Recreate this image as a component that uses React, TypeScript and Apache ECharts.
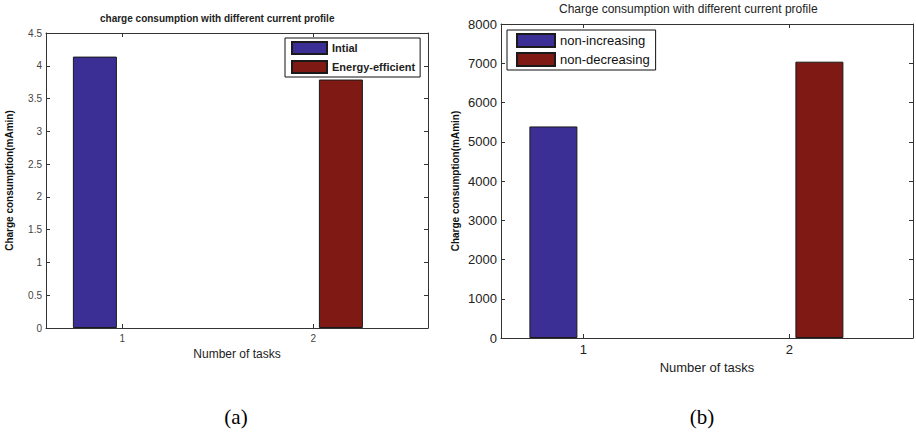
import React, { useEffect, useRef } from 'react';
import * as echarts from 'echarts';

const taskNumbers = [1, 2];
const leftSeriesNames = ['Intial', 'Energy-efficient'];
const leftInitial = [4.14, 0];
const leftEnergyEfficient = [0, 3.79];
const rightSeriesNames = ['non-increasing', 'non-decreasing'];
const rightNonIncreasing = [5390, 0];
const rightNonDecreasing = [0, 7040];
const leftTitle = 'charge consumption with different current profile';
const rightTitle = 'Charge consumption with different current profile';
const xAxisTitle = 'Number of tasks';
const yAxisTitle = 'Charge consumption(mAmin)';
const captions = ['(a)', '(b)'];

const BLUE = '#3b2e95';
const RED = '#7e1a13';
const AXIS = '#333';
const SANS = 'Arial, Liberation Sans, sans-serif';

function buildOption() {
  const panels = [
    { grid: { left: 46, top: 33, width: 382, height: 295 }, yMax: 4.5, yInt: 0.5, font: 10, labelColor: '#444', xNameSize: 12, xNameGap: 15, yNameGap: 32 },
    { grid: { left: 501, top: 24, width: 412, height: 314 }, yMax: 8000, yInt: 1000, font: 13, labelColor: '#222', xNameSize: 13, xNameGap: 17, yNameGap: 41 },
  ];
  const xAxis: any[] = [];
  const yAxis: any[] = [];
  panels.forEach((p, gi) => {
    const common = {
      type: 'value', gridIndex: gi, min: 0.6, max: 2.6,
      axisLine: { show: true, onZero: false, lineStyle: { color: AXIS, width: 1 } },
      axisTick: { show: true, inside: true, length: 4, customValues: taskNumbers, lineStyle: { color: AXIS } },
      splitLine: { show: false },
    };
    xAxis.push({
      ...common, position: 'bottom',
      axisLabel: { customValues: taskNumbers, fontSize: p.font, color: p.labelColor, margin: 5, fontFamily: SANS, formatter: (v: number) => String(v) },
      name: xAxisTitle, nameLocation: 'middle', nameGap: p.xNameGap,
      nameTextStyle: { fontSize: p.xNameSize, color: '#222', fontFamily: SANS },
    });
    xAxis.push({ ...common, position: 'top', axisLabel: { show: false } });
    const ycommon = {
      type: 'value', gridIndex: gi, min: 0, max: p.yMax, interval: p.yInt,
      axisLine: { show: true, onZero: false, lineStyle: { color: AXIS, width: 1 } },
      axisTick: { show: true, inside: true, length: 4, lineStyle: { color: AXIS } },
      splitLine: { show: false },
    };
    yAxis.push({
      ...ycommon, position: 'left',
      axisLabel: { fontSize: p.font, color: p.labelColor, margin: 4, fontFamily: SANS, formatter: (v: number) => String(v) },
      name: yAxisTitle, nameLocation: 'middle', nameRotate: 90, nameGap: p.yNameGap,
      nameTextStyle: { fontSize: 10, fontWeight: 'bold', color: '#111', fontFamily: SANS },
    });
    yAxis.push({ ...ycommon, position: 'right', axisLabel: { show: false } });
  });

  const mk = (name: string, values: number[], gi: number, color: string, w: number) => ({
    type: 'bar', name, xAxisIndex: gi * 2, yAxisIndex: gi * 2,
    data: taskNumbers.map((x, i) => ({
      value: [x, values[i]],
      itemStyle: values[i] === 0 ? { borderWidth: 0, opacity: 0 } : undefined,
    })),
    barWidth: w, barGap: '25%',
    itemStyle: { color, borderColor: '#1a1a1a', borderWidth: 1 },
  });

  return {
    animation: false,
    backgroundColor: '#fff',
    textStyle: { fontFamily: SANS },
    title: [
      { text: leftTitle, left: 100, top: 13, padding: 0, textStyle: { fontSize: 10, fontWeight: 'bold', color: '#222', fontFamily: SANS } },
      { text: rightTitle, left: 559, top: 3, padding: 0, textStyle: { fontSize: 12, fontWeight: 'normal', color: '#222', fontFamily: SANS } },
    ],
    legend: [
      {
        data: leftSeriesNames, orient: 'vertical', left: 285, top: 38, padding: [3, 5, 3, 6],
        itemWidth: 35, itemHeight: 12, itemGap: 5, icon: 'rect',
        backgroundColor: '#fff', borderColor: '#111', borderWidth: 1, borderRadius: 0,
        textStyle: { fontSize: 11, lineHeight: 12, fontWeight: 'bold', color: '#222', fontFamily: SANS },
      },
      {
        data: rightSeriesNames, orient: 'vertical', left: 507, top: 30, padding: [3, 6, 3, 9],
        itemWidth: 38, itemHeight: 13, itemGap: 4, icon: 'rect',
        backgroundColor: '#fff', borderColor: '#111', borderWidth: 1, borderRadius: 0,
        textStyle: { fontSize: 13, lineHeight: 14, color: '#111', fontFamily: SANS },
      },
    ],
    grid: panels.map((p) => ({ ...p.grid, containLabel: false })),
    xAxis,
    yAxis,
    series: [
      mk(leftSeriesNames[0], leftInitial, 0, BLUE, 44),
      mk(leftSeriesNames[1], leftEnergyEfficient, 0, RED, 44),
      mk(rightSeriesNames[0], rightNonIncreasing, 1, BLUE, 48),
      mk(rightSeriesNames[1], rightNonDecreasing, 1, RED, 48),
    ],
    graphic: [
      { type: 'text', x: 236, y: 417, style: { text: captions[0], fontSize: 21, fontFamily: 'Liberation Serif, Times New Roman, serif', fill: '#000', textAlign: 'center', textVerticalAlign: 'middle' } },
      { type: 'text', x: 702, y: 417, style: { text: captions[1], fontSize: 21, fontFamily: 'Liberation Serif, Times New Roman, serif', fill: '#000', textAlign: 'center', textVerticalAlign: 'middle' } },
    ],
  };
}

export default function App() {
  const ref = useRef<HTMLDivElement>(null);
  useEffect(() => {
    if (!ref.current) return;
    const chart = echarts.init(ref.current, undefined, { renderer: 'svg' });
    chart.setOption(buildOption() as any);
    return () => chart.dispose();
  }, []);
  return <div ref={ref} style={{ position: 'fixed', left: 0, top: 0, width: 916, height: 433 }} />;
}
